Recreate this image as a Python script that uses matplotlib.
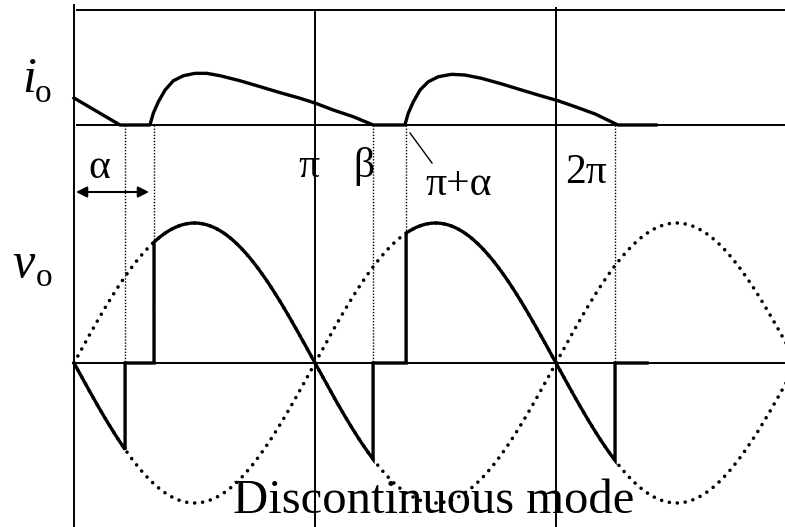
import numpy as np
import matplotlib.pyplot as plt

plt.rcParams['font.family'] = ['Liberation Serif', 'DejaVu Serif']

# firing / extinction angles in units of pi
beta0 = 0.212    # end of previous conduction (beta - pi)
alpha1 = 0.332   # alpha
beta1 = 1.241    # beta
alpha2 = 1.378   # pi + alpha
beta2 = 2.245    # beta + pi
v_end = 2.378    # end of the drawn output trace

# load current (theta/pi, height above io baseline in units of Vm)
io_theta = [0.0, 0.191, 0.315, 0.329, 0.350, 0.378, 0.412, 0.454, 0.502, 0.551, 0.606, 0.689,
            0.772, 0.855, 0.938, 1.003, 1.076, 1.159, 1.242,
            1.373, 1.387, 1.408, 1.436, 1.470, 1.512, 1.567, 1.622, 1.692, 1.775, 1.857,
            1.940, 2.007, 2.079, 2.162, 2.257, 2.415]
io_val = [0.193, 0.0, 0.0, 0.084, 0.166, 0.250, 0.316, 0.352, 0.369, 0.369, 0.352, 0.316,
          0.274, 0.231, 0.191, 0.155, 0.107, 0.059, 0.0,
          0.0, 0.084, 0.166, 0.250, 0.309, 0.345, 0.362, 0.357, 0.333, 0.293, 0.250,
          0.207, 0.174, 0.131, 0.079, 0.0, 0.0]

IO_BASE = 1.7  # io baseline, same units as vo (vo amplitude = 1)


def px(x):
    # pixel column -> theta/pi
    return (x - 74) / 241.0


def py(y):
    # pixel row -> vo units
    return (363 - y) / 140.0


W, H = 785, 527
fig = plt.figure(figsize=(W / 100, H / 100), dpi=100, facecolor='w')
ax = fig.add_axes([0, 0, 1, 1])
ax.set_xlim(px(0), px(W))
ax.set_ylim(py(H), py(0))
ax.axis('off')

# supply voltages (dotted)
th = np.linspace(0, px(W + 10), 800)
dots = dict(color='k', lw=2.6, ls=(0, (0.01, 2.2)), dash_capstyle='round')
ax.plot(th, np.sin(np.pi * th), **dots)
ax.plot(th, -np.sin(np.pi * th), **dots)

# output voltage
s = lambda t: np.sin(np.pi * np.asarray(t))
t1 = np.linspace(0, beta0, 30)
t2 = np.linspace(alpha1, beta1, 200)
t3 = np.linspace(alpha2, beta2, 200)
vx = np.concatenate([t1, [beta0, alpha1, alpha1], t2, [beta1, alpha2, alpha2], t3, [beta2, v_end]])
vy = np.concatenate([-s(t1), [0, 0, s(alpha1)], s(t2), [0, 0, -s(alpha2)], -s(t3), [0, 0]])
ax.plot(vx, vy, color='k', lw=2.4, solid_joinstyle='miter')

# output current
ax.plot(io_theta, IO_BASE + np.array(io_val), color='k', lw=2.4, solid_joinstyle='round')

# frame lines
thin = dict(color='k', lw=1.4)
ax.plot([0, 0], [py(5), py(H)], **thin)
ax.plot([px(77), px(W)], [py(10), py(10)], **thin)
ax.plot([1, 1], [py(12), py(H)], **thin)
ax.plot([2, 2], [py(8), py(H)], **thin)
ax.plot([px(77), px(W)], [IO_BASE, IO_BASE], **thin)
ax.plot([0, px(W)], [0, 0], **thin)

# dotted markers at the switching angles
for a in [beta0, alpha1, beta1, alpha2, beta2]:
    ax.plot([a, a], [IO_BASE, 0], color='k', lw=1.0, ls=(0, (1, 1.2)))

# alpha arrow
ax.annotate('', xy=(px(149), py(192)), xytext=(px(76), py(192)),
            arrowprops=dict(arrowstyle='<|-|>', color='k', lw=1.5, mutation_scale=16,
                            shrinkA=0, shrinkB=0))
# leader to pi+alpha
ax.plot([px(410), px(432)], [py(133), py(163)], color='k', lw=1.0)


def label(x, y, txt, size, style='normal'):
    fig.text(x / W, 1 - y / H, txt, fontsize=size, style=style, ha='left', va='baseline')


label(22, 92, 'i', 36, 'italic')
label(35, 102, 'o', 24)
label(12, 277, 'v', 36, 'italic')
label(36, 286, 'o', 24)
label(88, 178, 'α', 30)
label(298, 177, 'π', 30)
label(353, 177, 'β', 30)
label(425, 195, 'π+α', 30)
label(565, 183, '2π', 30)
label(233, 513, 'Discontinuous mode', 35)

fig.savefig('out.png', dpi=100, facecolor='w')
